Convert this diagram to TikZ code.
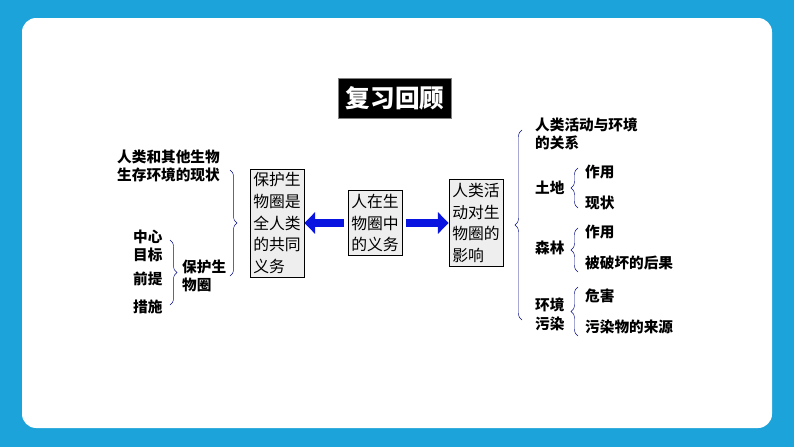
\documentclass[tikz,border=0pt]{standalone}
\usepackage{fontspec}
\setmainfont{Noto Sans CJK SC}
\usetikzlibrary{arrows.meta,decorations.pathreplacing}
\definecolor{frame}{HTML}{1BA3DA}
\definecolor{boxbg}{HTML}{EEEEEE}
\definecolor{arr}{HTML}{0A14E0}
\tikzset{
  topic/.style={draw=black, fill=boxbg, align=left, font=\fontsize{13.5}{18.5}\selectfont, inner sep=3pt},
  item/.style={anchor=west, align=left, font=\bfseries\fontsize{12.5}{16}\selectfont, inner sep=0pt},
  brc/.style={draw=arr!60!black, decorate, decoration={brace, amplitude=6pt}},
  bluearrow/.style={draw=arr, line width=7pt, -{Triangle[length=9pt,width=18pt]}}
}
\begin{document}
\begin{tikzpicture}[x=0.03cm, y=-0.03cm]
  \fill[frame] (0,0) rectangle (794,447);
  \fill[white, rounded corners=12] (22,18) rectangle (772,428);
  % title
  \node[fill=black, draw=gray, text=white, font=\bfseries\fontsize{21}{24}\selectfont, minimum width=3.4cm, minimum height=1.2cm] (title) at (395,98) {复习回顾};
  % boxes
  \node[topic] (protect) at (277,223) {保护生\\物圈是\\全人类\\的共同\\义务};
  \node[topic] (duty) at (375,223) {人在生\\物圈中\\的义务};
  \node[topic] (impact) at (476,223) {人类活\\动对生\\物圈的\\影响};
  \draw[bluearrow] (duty.west) ++(-4,0) coordinate (dl) -- (protect.east);
  \draw[bluearrow] (duty.east) ++(4,0) coordinate (dr) -- (impact.west);
  % left side
  \node[item] (status) at (117,166) {人类和其他生物\\生存环境的现状};
  \node[item] (center) at (133,246) {中心\\目标};
  \node[item] (premise) at (133,279) {前提};
  \node[item] (measure) at (133,307) {措施};
  \node[item] (bio) at (182,276) {保护生\\物圈};
  \draw[brc] (170,240) -- (170,305);
  \draw[brc] (230,170) -- (230,276);
  % right side
  \node[item] (relation) at (535,134) {人类活动与环境\\的关系};
  \node[item] (land) at (535,188) {土地};
  \node[item] (landuse) at (585,172) {作用};
  \node[item] (landnow) at (585,203) {现状};
  \node[item] (forest) at (535,248) {森林};
  \node[item] (forestuse) at (585,232) {作用};
  \node[item] (forestloss) at (585,263) {被破坏的后果};
  \node[item] (pollution) at (535,314) {环境\\污染};
  \node[item] (harm) at (585,296) {危害};
  \node[item] (source) at (585,327) {污染物的来源};
  \draw[brc] (522,320) -- (522,130);
  \draw[brc] (578,208) -- (578,168);
  \draw[brc] (578,272) -- (578,228);
  \draw[brc] (578,336) -- (578,287);
\end{tikzpicture}
\end{document}
